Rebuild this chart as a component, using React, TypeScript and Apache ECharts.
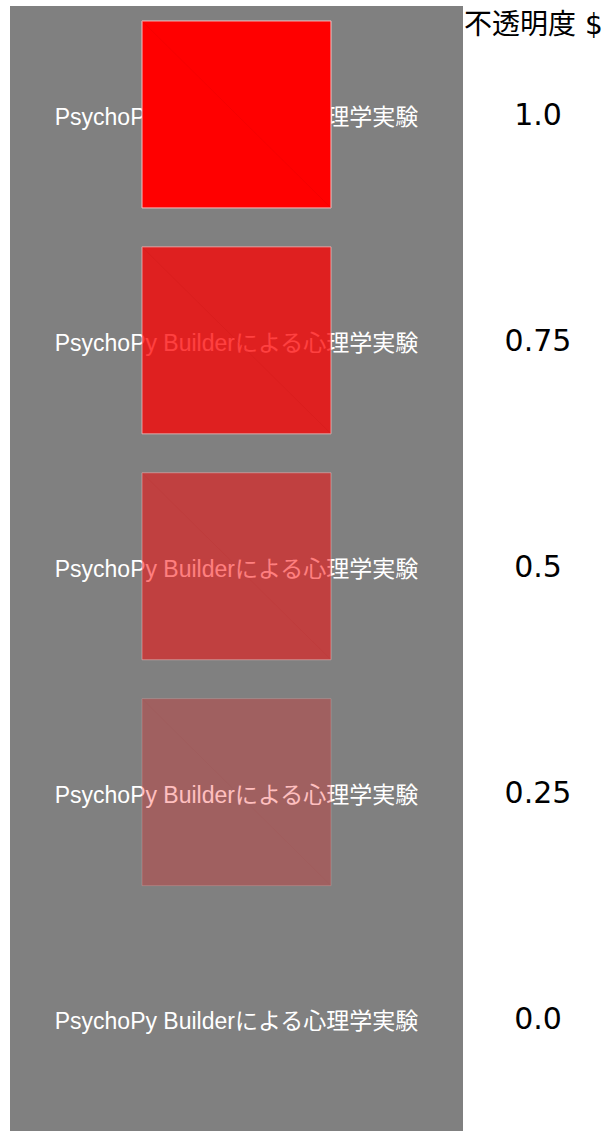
import React, { useEffect, useRef } from "react";
import * as echarts from "echarts";

// ---- data ----
const opacityLevels = [1.0, 0.75, 0.5, 0.25, 0.0];
const opacityLabels = ["1.0", "0.75", "0.5", "0.25", "0.0"];
const stimulusText = "PsychoPy Builderによる心理学実験";
const stimulusX = 0.5;
const titleText = "不透明度 $";

const SQ_W = 189;
const SQ_H = 187;

export default function App() {
  const ref = useRef<HTMLDivElement>(null);

  useEffect(() => {
    document.body.style.margin = "0";
    if (!ref.current) return;
    const chart = echarts.init(ref.current, null, { renderer: "svg" });

    const data = opacityLevels.map((o, i) => [stimulusX, opacityLabels[i], o]);

    chart.setOption({
      animation: false,
      backgroundColor: "#ffffff",
      title: {
        text: titleText,
        left: 464,
        top: 10,
        padding: 0,
        textStyle: {
          fontSize: 28,
          fontWeight: "normal",
          color: "#000000",
          fontFamily: "DejaVu Sans, Noto Sans CJK JP",
        },
      },
      graphic: [
        {
          type: "rect",
          z: 0,
          silent: true,
          shape: { x: 10, y: 6, width: 453, height: 1125 },
          style: { fill: "#808080" },
        },
      ],
      grid: { left: 10, top: 1.5, width: 453, height: 1130, containLabel: false },
      xAxis: { type: "value", min: 0, max: 1, show: false },
      yAxis: {
        type: "category",
        data: opacityLabels,
        inverse: true,
        position: "right",
        axisLine: { show: false },
        axisTick: { show: false },
        splitLine: { show: false },
        axisLabel: {
          fontSize: 30,
          color: "#000000",
          fontFamily: "DejaVu Sans",
          align: "center",
          margin: 75,
        },
      },
      series: [
        {
          type: "custom",
          z: 5,
          encode: { x: 0, y: 1 },
          data,
          renderItem: (params: any, api: any) => {
            const p = api.coord([api.value(0), api.value(1)]);
            const op = api.value(2);
            const x0 = p[0] - SQ_W / 2;
            const y0 = p[1] - SQ_H / 2;
            return {
              type: "group",
              children: [
                {
                  type: "text",
                  x: p[0],
                  y: p[1] + 2.5,
                  style: {
                    text: stimulusText,
                    fill: "#ffffff",
                    fontSize: 23,
                    fontFamily: "Liberation Sans, Noto Sans CJK JP",
                    align: "center",
                    verticalAlign: "middle",
                  },
                },
                {
                  type: "rect",
                  shape: { x: x0, y: y0, width: SQ_W, height: SQ_H },
                  style: {
                    fill: "#ff0000",
                    stroke: "#f2c0c0",
                    lineWidth: 1,
                    opacity: op,
                  },
                },
                {
                  type: "line",
                  shape: { x1: x0, y1: y0, x2: x0 + SQ_W, y2: y0 + SQ_H },
                  style: {
                    stroke: "rgba(170,0,0,0.12)",
                    lineWidth: 1,
                    opacity: op,
                  },
                },
              ],
            };
          },
        },
      ],
    });

    return () => chart.dispose();
  }, []);

  return <div ref={ref} style={{ width: 612, height: 1131 }} />;
}
